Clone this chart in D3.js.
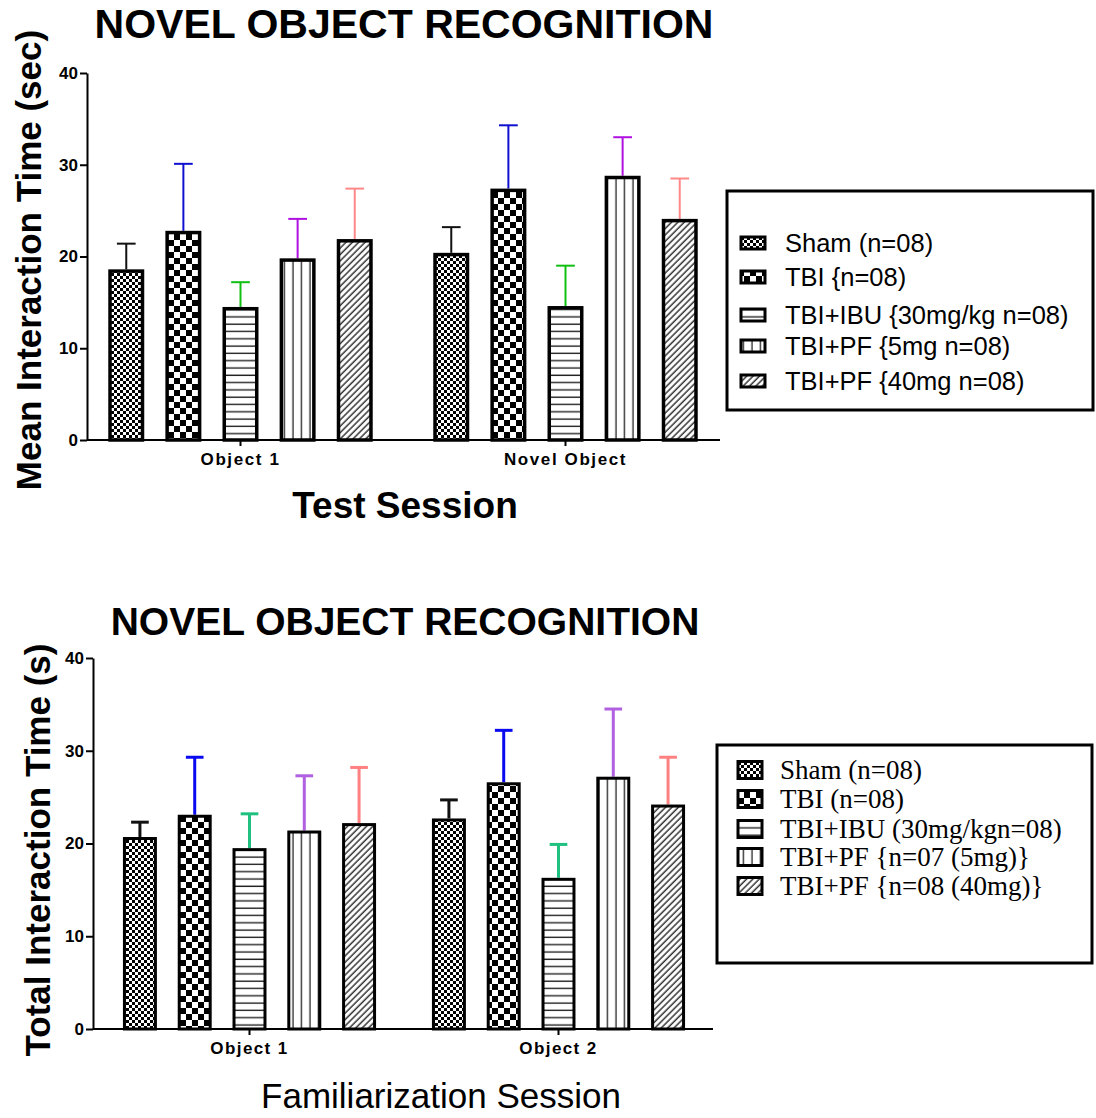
<!DOCTYPE html>
<html>
<head>
<meta charset="utf-8">
<script src="https://cdn.jsdelivr.net/npm/d3@7"></script>
<style>
  html, body { margin: 0; padding: 0; background: #fff; }
  svg { display: block; }
</style>
</head>
<body>
<svg id="fig" width="1096" height="1118"></svg>
<script>
// ---- data ----
const seriesKeys = ["sham", "tbi", "ibu", "pf5", "pf40"];

// Test session (upper panel)
const testGroups = ["Object 1", "Novel Object"];
const testMeans = {
  sham: [18.6, 20.4],
  tbi:  [22.8, 27.4],
  ibu:  [14.5, 14.6],
  pf5:  [19.8, 28.8],
  pf40: [21.9, 24.1]
};
const testSem = {
  sham: [2.8, 2.8],
  tbi:  [7.3, 6.9],
  ibu:  [2.7, 4.4],
  pf5:  [4.3, 4.2],
  pf40: [5.5, 4.4]
};
const testLegend = ["Sham (n=08)", "TBI {n=08)", "TBI+IBU {30mg/kg n=08)", "TBI+PF {5mg n=08)", "TBI+PF {40mg n=08)"];

// Familiarization session (lower panel)
const famGroups = ["Object 1", "Object 2"];
const famMeans = {
  sham: [20.7, 22.7],
  tbi:  [23.1, 26.6],
  ibu:  [19.5, 16.3],
  pf5:  [21.4, 27.2],
  pf40: [22.2, 24.2]
};
const famSem = {
  sham: [1.6, 2.0],
  tbi:  [6.2, 5.6],
  ibu:  [3.7, 3.6],
  pf5:  [5.9, 7.3],
  pf40: [6.0, 5.1]
};
const famLegend = ["Sham (n=08)", "TBI (n=08)", "TBI+IBU (30mg/kgn=08)", "TBI+PF {n=07 (5mg)}", "TBI+PF {n=08 (40mg)}"];

const yTicks = [0, 10, 20, 30, 40];
const testErrColors = ["#111111", "#1010d0", "#10c010", "#b010e0", "#ff8888"];
const famErrColors  = ["#111111", "#0a0af0", "#20c080", "#b060e0", "#ff8080"];

const SANS = "Liberation Sans, Arial, sans-serif";

// ---- fill patterns ----
const svg = d3.select("#fig");
const defs = svg.append("defs");

function checker(id, s) {
  const p = defs.append("pattern").attr("id", id)
    .attr("patternUnits", "userSpaceOnUse").attr("width", 2 * s).attr("height", 2 * s);
  p.append("rect").attr("width", 2 * s).attr("height", 2 * s).attr("fill", "#fff");
  p.append("rect").attr("width", s).attr("height", s).attr("fill", "#000");
  p.append("rect").attr("x", s).attr("y", s).attr("width", s).attr("height", s).attr("fill", "#000");
}
checker("pat-sham", 3);
checker("pat-tbi", 6);

(function () {
  const p = defs.append("pattern").attr("id", "pat-ibu")
    .attr("patternUnits", "userSpaceOnUse").attr("width", 10).attr("height", 7.3);
  p.append("rect").attr("width", 10).attr("height", 7.3).attr("fill", "#fff");
  p.append("line").attr("x1", 0).attr("x2", 10).attr("y1", 3).attr("y2", 3)
    .attr("stroke", "#222").attr("stroke-width", 1.4);
})();
(function () {
  const p = defs.append("pattern").attr("id", "pat-pf5")
    .attr("patternUnits", "userSpaceOnUse").attr("width", 8.5).attr("height", 10);
  p.append("rect").attr("width", 8.5).attr("height", 10).attr("fill", "#fff");
  p.append("line").attr("x1", 4).attr("x2", 4).attr("y1", 0).attr("y2", 10)
    .attr("stroke", "#222").attr("stroke-width", 1.3);
})();
(function () {
  const p = defs.append("pattern").attr("id", "pat-pf40")
    .attr("patternUnits", "userSpaceOnUse").attr("width", 4.5).attr("height", 10)
    .attr("patternTransform", "rotate(45)");
  p.append("rect").attr("width", 4.5).attr("height", 10).attr("fill", "#fff");
  p.append("line").attr("x1", 2).attr("x2", 2).attr("y1", 0).attr("y2", 10)
    .attr("stroke", "#333").attr("stroke-width", 1.5);
})();

// ---- one grouped bar panel ----
function panel(cfg) {
  const g = svg.append("g");
  const y = d3.scaleLinear().domain([0, 40]).range([cfg.y0, cfg.y1]);
  const x0 = d3.scaleBand().domain(cfg.groups).range(cfg.bandRange);
  const x1 = d3.scaleBand().domain(seriesKeys).range([0, x0.bandwidth()])
    .paddingInner(cfg.padIn).paddingOuter(cfg.padOut);

  // y axis
  const yAxis = g.append("g").attr("transform", `translate(${cfg.axisX},0)`)
    .call(d3.axisLeft(y).tickValues(yTicks).tickSize(7).tickPadding(2).tickSizeOuter(0));
  yAxis.select(".domain").attr("stroke", "#000").attr("stroke-width", 2);
  yAxis.selectAll(".tick line").attr("stroke", "#000").attr("stroke-width", 2);
  yAxis.selectAll(".tick text")
    .attr("font-family", SANS)
    .attr("font-weight", "bold").attr("font-size", 17).attr("fill", "#000");

  // bars
  seriesKeys.forEach((k, i) => {
    const gs = g.append("g");
    cfg.groups.forEach((grp, j) => {
      const v = cfg.means[k][j];
      const e = cfg.sem[k][j];
      const bx = x0(grp) + x1(k);
      const bw = x1.bandwidth();
      const cx = bx + bw / 2;
      // error bar (upper whisker only)
      gs.append("line").attr("x1", cx).attr("x2", cx)
        .attr("y1", y(v)).attr("y2", y(v + e))
        .attr("stroke", cfg.errColors[i]).attr("stroke-width", cfg.errWidth);
      gs.append("line").attr("x1", cx - bw * 0.26).attr("x2", cx + bw * 0.26)
        .attr("y1", y(v + e)).attr("y2", y(v + e))
        .attr("stroke", cfg.errColors[i]).attr("stroke-width", cfg.errWidth);
      gs.append("rect")
        .attr("x", bx + cfg.barStroke / 2).attr("y", y(v) + cfg.barStroke / 2)
        .attr("width", bw - cfg.barStroke).attr("height", y(0) - y(v) - cfg.barStroke / 2)
        .attr("fill", `url(#pat-${k})`)
        .attr("stroke", "#000").attr("stroke-width", cfg.barStroke);
    });
  });

  // x axis
  const xAxis = g.append("g").attr("transform", `translate(0,${cfg.y0})`)
    .call(d3.axisBottom(x0).tickSize(6).tickPadding(7).tickSizeOuter(0));
  xAxis.select(".domain").remove();
  g.append("line").attr("x1", cfg.axisX).attr("x2", cfg.axisEnd)
    .attr("y1", cfg.y0).attr("y2", cfg.y0).attr("stroke", "#000").attr("stroke-width", 2);
  xAxis.selectAll(".tick line").attr("stroke", "#000").attr("stroke-width", 2);
  xAxis.selectAll(".tick text")
    .attr("font-family", SANS)
    .attr("font-weight", "bold").attr("font-size", 17)
    .attr("letter-spacing", cfg.tickSpacing).attr("fill", "#000");

  // titles
  g.append("text").attr("x", cfg.title.x).attr("y", cfg.title.y)
    .attr("text-anchor", "middle").attr("font-family", SANS)
    .attr("font-weight", "bold").attr("font-size", cfg.title.size).text("NOVEL OBJECT RECOGNITION");
  g.append("text").attr("transform", `translate(${cfg.yTitle.x},${cfg.yTitle.y}) rotate(-90)`)
    .attr("text-anchor", "middle").attr("font-family", SANS)
    .attr("font-weight", "bold").attr("font-size", cfg.yTitle.size).text(cfg.yTitle.text);
  g.append("text").attr("x", cfg.xTitle.x).attr("y", cfg.xTitle.y)
    .attr("text-anchor", "middle").attr("font-family", SANS)
    .attr("font-weight", cfg.xTitle.weight).attr("font-size", cfg.xTitle.size).text(cfg.xTitle.text);

  // legend
  const L = cfg.legend;
  g.append("rect").attr("x", L.x).attr("y", L.y).attr("width", L.w).attr("height", L.h)
    .attr("fill", "#fff").attr("stroke", "#000").attr("stroke-width", 3);
  seriesKeys.forEach((k, i) => {
    const ry = L.rows[i];
    g.append("rect").attr("x", L.sx).attr("y", ry - L.sh / 2).attr("width", L.sw).attr("height", L.sh)
      .attr("fill", `url(#pat-${k})`).attr("stroke", "#000").attr("stroke-width", 3);
    g.append("text").attr("x", L.tx).attr("y", ry).attr("dy", "0.35em")
      .attr("font-family", L.font).attr("font-size", L.size).attr("fill", "#000")
      .text(L.labels[i]);
  });
}

panel({
  groups: testGroups, means: testMeans, sem: testSem, errColors: testErrColors,
  y0: 440, y1: 73, axisX: 87, axisEnd: 720, bandRange: [78, 728],
  padIn: 0.37, padOut: 0.53, barStroke: 3.5, errWidth: 2, tickSpacing: 1.6,
  title: { x: 404, y: 38, size: 41 },
  yTitle: { x: 41, y: 260, size: 35, text: "Mean Interaction Time (sec)" },
  xTitle: { x: 405, y: 518, size: 37, weight: "bold", text: "Test Session" },
  legend: {
    x: 727, y: 191, w: 366, h: 219, sx: 741, sw: 24, sh: 12, tx: 785,
    rows: [243, 277, 315, 346, 381], size: 25.5,
    font: SANS, labels: testLegend
  }
});

panel({
  groups: famGroups, means: famMeans, sem: famSem, errColors: famErrColors,
  y0: 1029, y1: 658, axisX: 93, axisEnd: 713, bandRange: [95, 713],
  padIn: 0.38, padOut: 0.51, barStroke: 3, errWidth: 3, tickSpacing: 1.4,
  title: { x: 405, y: 635, size: 39 },
  yTitle: { x: 50, y: 850, size: 35, text: "Total Interaction Time (s)" },
  xTitle: { x: 441, y: 1108, size: 35, weight: "normal", text: "Familiarization Session" },
  legend: {
    x: 717, y: 745, w: 375, h: 218, sx: 738, sw: 24, sh: 17, tx: 780,
    rows: [770, 799, 829, 857, 886], size: 27,
    font: "Liberation Serif, Times New Roman, serif", labels: famLegend
  }
});
</script>
</body>
</html>
